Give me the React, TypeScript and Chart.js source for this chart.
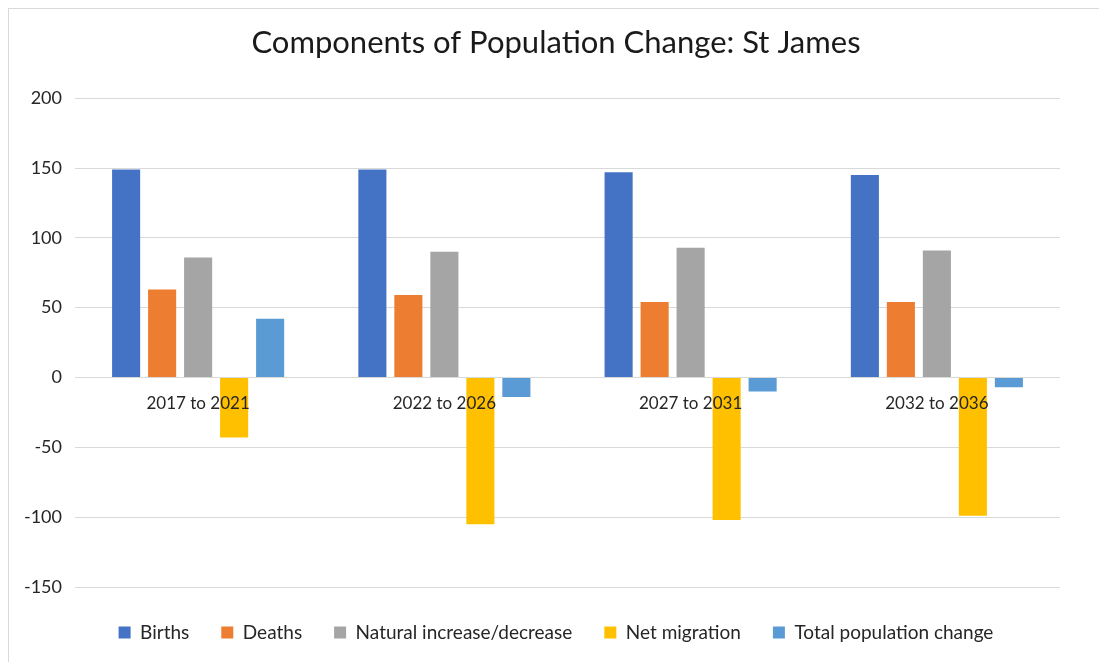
import React, { useEffect, useRef } from "react";
import { Chart, registerables } from "chart.js";

Chart.register(...registerables);

const categories = ["2017 to 2021", "2022 to 2026", "2027 to 2031", "2032 to 2036"];
const births = [149, 149, 147, 145];
const deaths = [63, 59, 54, 54];
const naturalChange = [86, 90, 93, 91];
const netMigration = [-43, -105, -102, -99];
const totalChange = [42, -14, -10, -7];

const seriesNames = ["Births", "Deaths", "Natural increase/decrease", "Net migration", "Total population change"];
const seriesColors = ["#4472C4", "#ED7D31", "#A5A5A5", "#FFC000", "#5B9BD5"];

const FONT = "Lato, 'Open Sans', sans-serif";

export default function App() {
  const ref = useRef<HTMLCanvasElement | null>(null);

  useEffect(() => {
    if (!ref.current) return;
    const values = [births, deaths, naturalChange, netMigration, totalChange];
    const chart = new Chart(ref.current, {
      type: "bar",
      data: {
        labels: categories,
        datasets: values.map((v, i) => ({
          label: seriesNames[i],
          data: v,
          backgroundColor: seriesColors[i],
          borderWidth: 0,
          categoryPercentage: 0.731,
          barPercentage: 0.78,
        })),
      },
      options: {
        animation: false,
        responsive: false,
        maintainAspectRatio: false,
        layout: { padding: { top: 0, left: 10, right: 14, bottom: 10 } },
        plugins: {
          title: {
            display: true,
            text: "Components of Population Change: St James",
            color: "#1a1a1a",
            font: { family: FONT, size: 31, weight: "normal" },
            padding: { top: 15, bottom: 37 },
          },
          legend: {
            position: "bottom",
            title: { display: true, text: " ", padding: { top: 0.4, bottom: 0 }, font: { size: 3, family: FONT } },
            labels: {
              boxWidth: 12,
              boxHeight: 12,
              padding: 32,
              color: "#262626",
              font: { family: FONT, size: 19 },
            },
          },
          tooltip: { enabled: false },
        },
        scales: {
          x: {
            position: { y: 0 } as any,
            grid: { display: false },
            border: { display: false },
            ticks: {
              z: 1,
              color: "#262626",
              padding: 8,
              font: { family: FONT, size: 17 },
            },
          },
          y: {
            min: -150,
            max: 200,
            grid: { color: "#d9d9d9", lineWidth: 1, drawTicks: false },
            border: { display: false },
            afterFit: (scale: any) => {
              scale.width = 56;
            },
            ticks: {
              stepSize: 50,
              padding: 13,
              color: "#262626",
              font: { family: FONT, size: 18 },
            },
          },
          yRightSpace: {
            type: "linear",
            position: "right",
            display: true,
            grid: { display: false, drawTicks: false },
            border: { display: false },
            ticks: { display: false },
            afterFit: (scale: any) => {
              scale.width = 33;
            },
          },
        },
      },
    });
    return () => chart.destroy();
  }, []);

  return (
    <div
      style={{
        width: 1098,
        height: 653,
        borderLeft: "1px solid #d9d9d9",
        borderTop: "1px solid #d9d9d9",
        background: "#fff",
      }}
    >
      <canvas ref={ref} width={1098} height={653} style={{ display: "block" }} />
    </div>
  );
}
